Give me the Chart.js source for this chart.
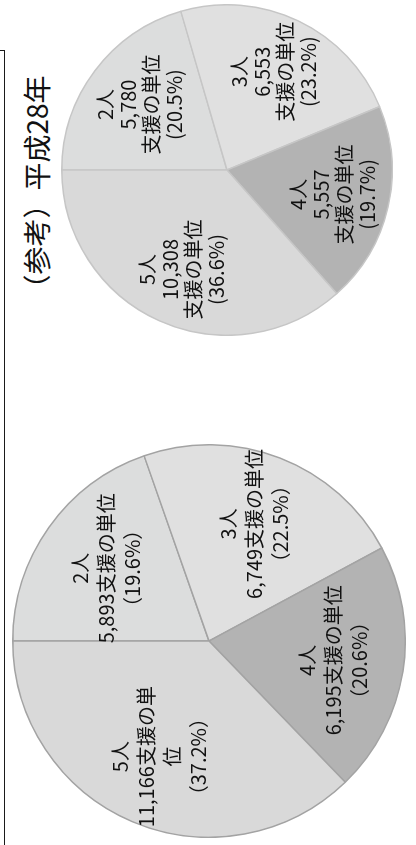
<!DOCTYPE html>
<html lang="ja">
<head>
<meta charset="utf-8">
<script src="https://cdn.jsdelivr.net/npm/chart.js@4/dist/chart.umd.min.js"></script>
<style>
  html, body { margin: 0; padding: 0; background: #fff; overflow: hidden; }
  body { width: 416px; height: 845px; position: relative; font-family: "Noto Sans CJK JP", "Noto Sans", sans-serif; }
  #frame { position: absolute; left: -20px; top: 50px; width: 23px; height: 820px; border: 1.5px solid #1a1a1a; }
  /* the whole figure is turned a quarter turn to the left */
  #sheet { position: absolute; left: 0; top: 0; width: 845px; height: 416px;
           transform-origin: 0 0; transform: translate(0, 845px) rotate(-90deg); }
  #nowChart { position: absolute; left: 7px; top: 12px; }
  #refChart { position: absolute; left: 509px; top: 61px; }
  #refTitle { position: absolute; left: 506px; top: 21px; width: 300px; text-align: center;
              font-size: 28px; line-height: 30px; color: #111; }
</style>
</head>
<body>
<div id="frame"></div>
<div id="sheet">
  <canvas id="nowChart" width="394" height="394"></canvas>
  <div id="refTitle">（参考）平成28年</div>
  <canvas id="refChart" width="332" height="332"></canvas>
</div>
<script>
// categories
const groups = ['2人', '3人', '4人', '5人'];

// current figures
const nowValues = [5893, 6749, 6195, 11166];
const nowPct = ['19.6', '22.5', '20.6', '37.2'];

// reference: H28
const refValues = [5780, 6553, 5557, 10308];
const refPct = ['20.5', '23.2', '19.7', '36.6'];

const sliceColors = ['#dcdddd', '#e0e0e0', '#b3b3b3', '#d9d9d9'];

// draws the text inside each slice
const sliceLabels = {
  id: 'sliceLabels',
  afterDatasetsDraw(chart, args, opts) {
    const ctx = chart.ctx;
    const meta = chart.getDatasetMeta(0);
    ctx.save();
    ctx.font = opts.font;
    ctx.fillStyle = '#111';
    ctx.textAlign = 'center';
    ctx.textBaseline = 'middle';
    meta.data.forEach(function(arc, i) {
      const p = arc.getProps(['x', 'y', 'startAngle', 'endAngle', 'outerRadius'], true);
      const mid = (p.startAngle + p.endAngle) / 2;
      const r = p.outerRadius * opts.radius;
      const cx = p.x + Math.cos(mid) * r;
      const cy = p.y + Math.sin(mid) * r;
      // wrap long lines character by character
      let lines = [];
      opts.lines[i].forEach(function(t) {
        let cur = '';
        for (const ch of t) {
          if (opts.maxWidth && ctx.measureText(cur + ch).width > opts.maxWidth && cur) {
            lines.push(cur);
            cur = ch;
          } else {
            cur += ch;
          }
        }
        lines.push(cur);
      });
      lines.forEach(function(t, k) {
        ctx.fillText(t, cx, cy + (k - (lines.length - 1) / 2) * opts.lineHeight);
      });
    });
    ctx.restore();
  }
};

function makePie(id, values, lines, border, labelOpts) {
  return new Chart(document.getElementById(id), {
    type: 'pie',
    data: {
      labels: groups,
      datasets: [{
        data: values,
        backgroundColor: sliceColors,
        borderColor: border,
        borderWidth: 1.5
      }]
    },
    options: {
      responsive: false,
      devicePixelRatio: 1,
      animation: false,
      layout: { padding: 0 },
      plugins: {
        legend: { display: false },
        tooltip: { enabled: false },
        sliceLabels: Object.assign({ lines: lines }, labelOpts)
      }
    },
    plugins: [sliceLabels]
  });
}

const nowLines = groups.map(function(g, i) {
  return [g, nowValues[i].toLocaleString('en-US') + '支援の単位', '（' + nowPct[i] + '%）'];
});
const refLines = groups.map(function(g, i) {
  return [g, refValues[i].toLocaleString('en-US'), '支援の単位', '(' + refPct[i] + '%)'];
});

makePie('nowChart', nowValues, nowLines, '#a3a3a3',
  { font: '20px "Noto Sans CJK JP"', lineHeight: 26, radius: 0.64, maxWidth: 155 });
makePie('refChart', refValues, refLines, '#c6c6c6',
  { font: '20px "Noto Sans CJK JP"', lineHeight: 23, radius: 0.66 });
</script>
</body>
</html>
